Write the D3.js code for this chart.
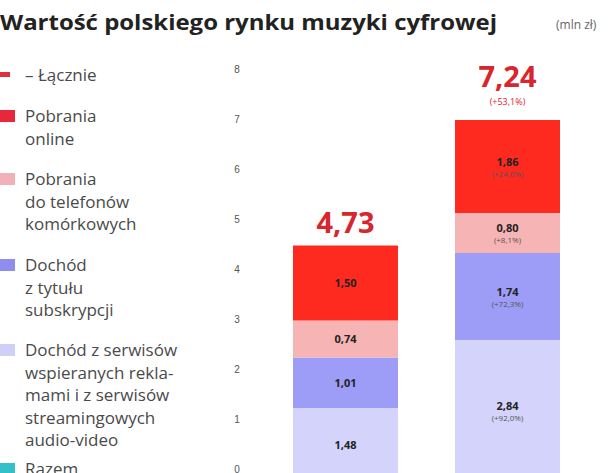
<!DOCTYPE html>
<html lang="pl">
<head>
<meta charset="utf-8">
<script src="https://d3js.org/d3.v7.min.js"></script>
<style>
  body { margin: 0; background: #fff; }
  svg { display: block; font-family: "Open Sans", "Liberation Sans", sans-serif; }
  .legend text { font-size: 17px; fill: #4a4a4a; }
  .tick text { font-size: 10px; fill: #555; }
</style>
</head>
<body>
<svg width="615" height="473"></svg>
<script>

// years shown as bars (no visible labels in the crop)
var years = ["2013", "2014"];

// stack segments, bottom to top
var seriesNames = ["streaming", "subskrypcje", "komorkowe", "online"];
var streaming   = [1.48, 2.84];
var subskrypcje = [1.01, 1.74];
var komorkowe   = [0.74, 0.80];
var online      = [1.50, 1.86];

var totals      = [4.73, 7.24];
var totalChange = ["", "(+53,1%)"];
var segChange   = {
  streaming:   ["", "(+92,0%)"],
  subskrypcje: ["", "(+72,3%)"],
  komorkowe:   ["", "(+8,1%)"],
  online:      ["", "(+24,0%)"]
};

var yTicks = [0, 1, 2, 3, 4, 5, 6, 7, 8];

var colors = {
  online: "#ff2a1f",
  komorkowe: "#f6b4b4",
  subskrypcje: "#9d9cf6",
  streaming: "#d3d3fb"
};

var legendItems = [
  { color: "#e03040", small: true, lines: ["– Łącznie"] },
  { color: "#e8283a", lines: ["Pobrania", "online"] },
  { color: "#f2b0b8", lines: ["Pobrania", "do telefonów", "komórkowych"] },
  { color: "#8f8ef0", lines: ["Dochód", "z tytułu", "subskrypcji"] },
  { color: "#cfcff8", lines: ["Dochód z serwisów", "wspieranych rekla-", "mami i z serwisów", "streamingowych", "audio-video"] },
  { color: "#33c0c8", lines: ["Razem"] }
];

var svg = d3.select("svg");

var values = { streaming: streaming, subskrypcje: subskrypcje, komorkowe: komorkowe, online: online };
var table = years.map(function(y, i) {
  var row = { year: y };
  seriesNames.forEach(function(k) { row[k] = values[k][i]; });
  return row;
});

var y = d3.scaleLinear().domain([0, 8]).range([482, 82]);
var x = d3.scaleBand().domain(years).range([293, 560]).paddingInner(0.352).paddingOuter(0);

var fmt = function(v) { return d3.format(".2f")(v).replace(".", ","); };

// title
svg.append("text")
    .attr("x", 0).attr("y", 30)
    .attr("textLength", 497).attr("lengthAdjust", "spacingAndGlyphs")
    .style("font-size", "21px").style("font-weight", "bold").style("fill", "#222")
    .text("Wartość polskiego rynku muzyki cyfrowej");

svg.append("text")
    .attr("x", 556).attr("y", 29)
    .style("font-size", "12px").style("fill", "#666")
    .text("(mln zł)");

// grid + axis labels
var axis = d3.axisLeft(y).tickValues(yTicks).tickSize(-410).tickPadding(0);
var ga = svg.append("g").attr("transform", "translate(615,0)").call(axis);
ga.select(".domain").remove();
ga.selectAll(".tick line").attr("stroke", "#cfcfcf").attr("stroke-width", 1.6);
ga.selectAll(".tick text")
    .attr("x", -378).attr("dy", -10)
    .attr("text-anchor", "middle");

// bars
var stack = d3.stack().keys(seriesNames)(table);

var layer = svg.append("g").selectAll("g")
  .data(stack)
  .join("g")
    .attr("fill", function(d) { return colors[d.key]; });

layer.selectAll("rect")
  .data(function(d) { return d; })
  .join("rect")
    .attr("x", function(d) { return x(d.data.year); })
    .attr("width", x.bandwidth())
    .attr("y", function(d) { return y(d[1]); })
    .attr("height", function(d) { return y(d[0]) - y(d[1]); });

// segment labels
stack.forEach(function(s) {
  s.forEach(function(d, i) {
    var cx = x(d.data.year) + x.bandwidth() / 2;
    var cy = (y(d[0]) + y(d[1])) / 2;
    var sub = segChange[s.key][i];
    var g = svg.append("g");
    g.append("text")
        .attr("x", cx).attr("y", sub ? cy - 1 : cy + 4)
        .attr("text-anchor", "middle")
        .style("font-size", "11px").style("font-weight", "bold").style("fill", "#222")
        .text(fmt(d.data[s.key]));
    if (sub) {
      g.append("text")
          .attr("x", cx).attr("y", cy + 10)
          .attr("text-anchor", "middle")
          .style("font-size", "8px").style("fill", "#555")
          .text(sub);
    }
  });
});

// totals
years.forEach(function(yr, i) {
  var cx = x(yr) + x.bandwidth() / 2;
  var top = y(totals[i]);
  var offset = totalChange[i] ? 33 : 13;
  svg.append("text")
      .attr("x", cx).attr("y", top - offset)
      .attr("text-anchor", "middle")
      .style("font-size", "29px").style("font-weight", "bold").style("fill", "#d8262e")
      .text(fmt(totals[i]));
  if (totalChange[i]) {
    svg.append("text")
        .attr("x", cx).attr("y", top - 15)
        .attr("text-anchor", "middle")
        .style("font-size", "9px").style("fill", "#d8262e")
        .text(totalChange[i]);
  }
});

// legend
var legendTop = [76, 117, 180, 266, 351, 470];
var lg = svg.append("g").attr("class", "legend");
legendItems.forEach(function(it, i) {
  var ty = legendTop[i];
  lg.append("rect")
      .attr("x", 0).attr("y", it.small ? ty - 4 : ty - 7)
      .attr("width", it.small ? 10 : 15).attr("height", it.small ? 5 : 12)
      .attr("fill", it.color);
  it.lines.forEach(function(line, j) {
    lg.append("text")
        .attr("x", 25).attr("y", ty + 5 + j * 22.5)
        .text(line);
  });
});

</script>
</body>
</html>
